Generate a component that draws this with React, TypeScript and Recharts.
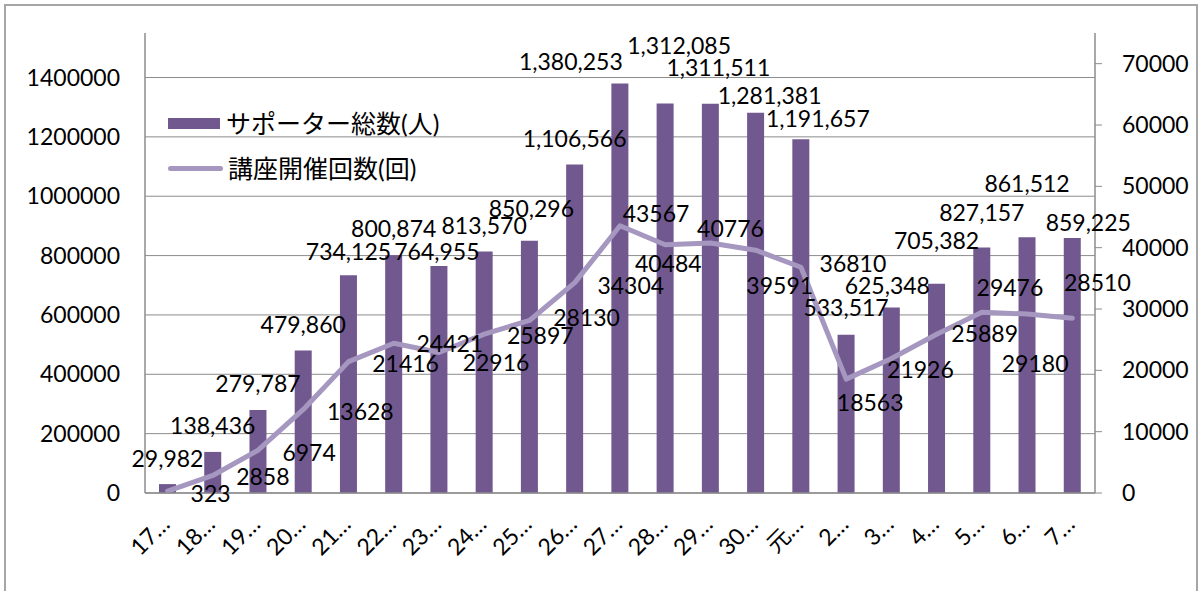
import React from "react";
import { ComposedChart, Bar, Line, XAxis, YAxis, CartesianGrid, Legend, LabelList } from "recharts";

const categories = [
  "17…", "18…", "19…", "20…", "21…", "22…", "23…", "24…", "25…", "26…", "27…",
  "28…", "29…", "30…", "元…", "2…", "3…", "4…", "5…", "6…", "7…",
];
const supporters = [
  29982, 138436, 279787, 479860, 734125, 800874, 764955, 813570, 850296, 1106566, 1380253,
  1312085, 1311511, 1281381, 1191657, 533517, 625348, 705382, 827157, 861512, 859225,
];
const courses = [
  323, 2858, 6974, 13628, 21416, 24421, 22916, 25897, 28130, 34304, 43567,
  40484, 40776, 39591, 36810, 18563, 21926, 25889, 29476, 29180, 28510,
];
const leftTicks = [0, 200000, 400000, 600000, 800000, 1000000, 1200000, 1400000];
const rightTicks = [0, 10000, 20000, 30000, 40000, 50000, 60000, 70000];

// label nudges (dx, distance above bar top) - the original labels were dragged around by hand
const barLabelShift: [number, number][] = [
  [0, 26], [0, 27], [0, 27], [0, 27], [0, 24], [0, 27], [-2, 15], [0, 27], [2, 33], [0, 27], [-49, 22],
  [14, 59], [8, 37], [14, 18], [17, 21], [0, 28], [-4, 22], [0, 44], [0, 36], [0, 54], [16, 16],
];
// line label centre relative to the point (dx, dy)
const lineLabelShift: [number, number][] = [
  [43, 2], [50, 1], [51, 2], [57, 2], [57, 1], [56, 0], [57, 10], [56, 1], [57, -3], [56, 2], [36, -13],
  [3, 18], [20, -15], [24, 35], [52, -4], [24, 23], [29, 10], [48, -1], [28, -25], [8, 49], [25, -36],
];

const BAR = "#71588f";
const LINE = "#a597bf";
const GRAY = "#8c8c8c";
const FONT = "Lato, 'Noto Sans CJK JP', sans-serif";

const data = categories.map((c, i) => ({
  category: c,
  supporters: supporters[i],
  courses: courses[i],
}));

function pick(props: any) {
  const vb = props.viewBox || {};
  return {
    x: props.x ?? vb.x,
    y: props.y ?? vb.y,
    width: props.width ?? vb.width ?? 0,
  };
}

function BarLabel(props: any) {
  const { x, y, width } = pick(props);
  const [dx, up] = barLabelShift[props.index] || [0, 27];
  return (
    <text x={x + width / 2 + dx} y={y - up} textAnchor="middle" dominantBaseline="central"
      fontSize={23} fontFamily={FONT} fill="#000">
      {Number(props.value).toLocaleString("en-US")}
    </text>
  );
}

function LineLabel(props: any) {
  const { x, y } = pick(props);
  const [dx, dy] = lineLabelShift[props.index] || [50, 0];
  return (
    <text x={x + dx} y={y + dy} textAnchor="middle" dominantBaseline="central"
      fontSize={23} fontFamily={FONT} fill="#000">
      {props.value}
    </text>
  );
}

function renderXTick(props: any) {
  const { x, payload } = props;
  return (
    <g transform={`translate(${x - 2},520)`}>
      <text x={0} y={0} dy="0.35em" textAnchor="end" transform="rotate(-45)"
        fontSize={23} fontFamily={FONT} fill="#000">
        {payload.value}
      </text>
    </g>
  );
}

function LegendBox() {
  return (
    <div style={{ fontFamily: FONT, fontSize: 25, color: "#000", lineHeight: 1 }}>
      <div style={{ display: "flex", alignItems: "center", height: 36 }}>
        <span style={{ display: "inline-block", width: 52, height: 11, background: BAR, marginRight: 6 }} />
        サポーター総数(人)
      </div>
      <div style={{ display: "flex", alignItems: "center", height: 36, marginTop: 9 }}>
        <span style={{ display: "inline-block", width: 55, height: 5, borderRadius: 3, background: LINE, marginRight: 5 }} />
        講座開催回数(回)
      </div>
    </div>
  );
}

export default function App() {
  return (
    <div style={{ position: "absolute", left: 0, top: 0, width: 1203, height: 591, overflow: "hidden", background: "#fff" }}>
      <div style={{ position: "absolute", left: 4, top: 4, width: 1194, height: 620, border: "2px solid #a6a6a6", boxSizing: "border-box" }} />
      <div style={{ position: "absolute", left: 0, top: 0 }}>
        <ComposedChart width={1203} height={591} data={data} margin={{ top: 33, right: 0, bottom: 0, left: 0 }}>
          <CartesianGrid yAxisId="left" vertical={false} stroke={GRAY} horizontalValues={leftTicks} />
          <XAxis dataKey="category" height={98} interval={0} tick={renderXTick} tickLine={false}
            axisLine={{ stroke: GRAY, strokeWidth: 1.5 }} />
          <YAxis yAxisId="left" width={145} domain={[0, 1550000]} ticks={leftTicks} interval={0}
            tickSize={0} tickMargin={25} tickLine={false} axisLine={{ stroke: GRAY, strokeWidth: 1.5 }}
            tick={{ fontSize: 23, fill: "#000", fontFamily: FONT }} tickFormatter={(v) => String(v)} />
          <YAxis yAxisId="right" orientation="right" width={108} domain={[0, 75000]} ticks={rightTicks} interval={0}
            tickSize={7} tickMargin={20} tickLine={{ stroke: GRAY }} axisLine={{ stroke: GRAY, strokeWidth: 1.5 }}
            tick={{ fontSize: 23, fill: "#000", fontFamily: FONT }} tickFormatter={(v) => String(v)} />
          <Legend layout="horizontal" verticalAlign="middle" align="center" content={<LegendBox />}
            wrapperStyle={{ position: "absolute", left: 168, top: 105, width: 320, height: 90 }} />
          <Bar yAxisId="left" dataKey="supporters" name="サポーター総数(人)" fill={BAR} barSize={17} isAnimationActive={false}>
            <LabelList dataKey="supporters" content={<BarLabel />} />
          </Bar>
          <Line yAxisId="right" type="linear" dataKey="courses" name="講座開催回数(回)" stroke={LINE} strokeWidth={5}
            strokeLinecap="round" strokeLinejoin="round" dot={false} activeDot={false} isAnimationActive={false}>
            <LabelList dataKey="courses" content={<LineLabel />} />
          </Line>
        </ComposedChart>
      </div>
    </div>
  );
}
